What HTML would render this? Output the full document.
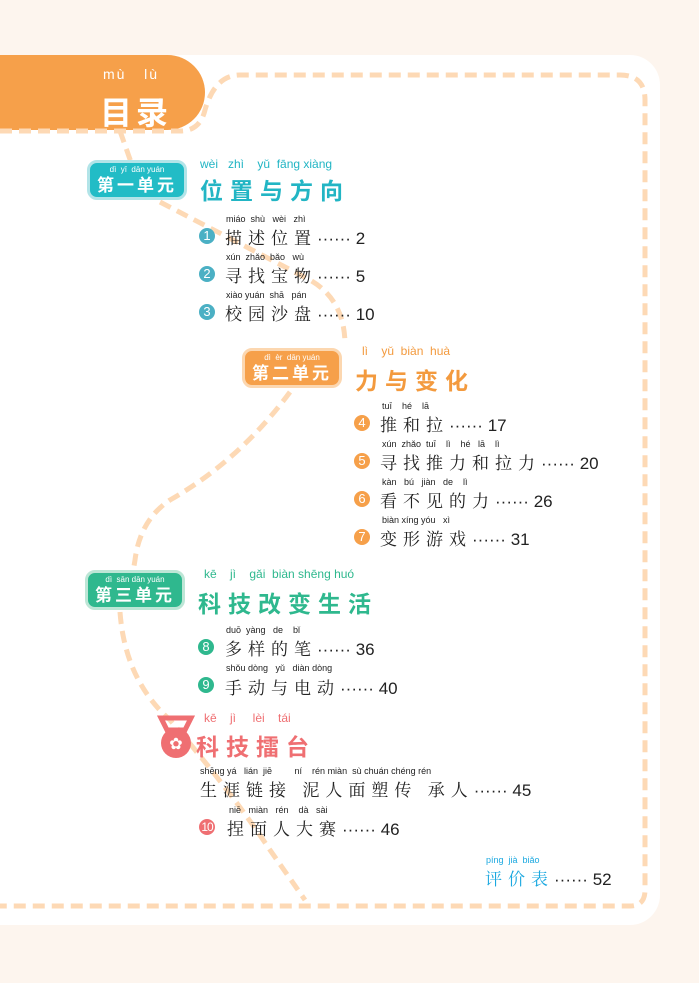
<!DOCTYPE html>
<html><head><meta charset="utf-8"><style>
body{margin:0;width:699px;height:983px;background:#fdf5ee;position:relative;overflow:hidden;font-family:"Liberation Sans","Noto Sans CJK SC",sans-serif}
.a{position:absolute;white-space:nowrap}
.py{font-size:9px;color:#222;letter-spacing:0}
.it{font-size:17px;color:#222;letter-spacing:6px;font-family:"Noto Serif CJK SC","Noto Sans CJK SC",sans-serif}
.it b{font-weight:normal;font-family:"Liberation Sans",sans-serif;letter-spacing:0}
.c{position:absolute;width:16px;height:16px;border-radius:50%;color:#fff;font-size:13px;text-align:center;line-height:16px;font-family:"Liberation Sans",sans-serif}
.badge{position:absolute;width:100px;height:40px;border-radius:10px;color:#fff;text-align:center;box-sizing:border-box}
.badge .p{font-size:8px;line-height:10px;margin-top:2px}
.badge .t{font-size:17px;font-weight:bold;letter-spacing:3px;line-height:21px}
.ti{font-size:23px;font-weight:bold;letter-spacing:7px}
</style></head><body>
<div class="a" style="left:0;top:55px;width:660px;height:870px;background:#fff;border-radius:0 30px 30px 0"></div>
<div class="a" style="left:0;top:55px;width:205px;height:75px;background:#f6a04a;border-radius:0 40px 40px 0"></div>
<svg class="a" style="left:0;top:0" width="699" height="983">
<g fill="none" stroke="#fdd9b5" stroke-width="5" stroke-dasharray="12,7">
<path d="M0,131 L180,131 Q200,131 205,110 Q215,75 240,75 L620,75 Q645,75 645,100 L645,890 Q645,906 630,906 L0,906"/>
<path d="M120,131 L132,165"/>
<path d="M160,202 L310,280 Q345,300 345,345"/>
<path d="M290,392 Q240,460 170,500 Q140,520 135,560 L133,572"/>
<path d="M120,612 Q125,680 170,720 Q230,790 270,850 L305,900"/>
</g></svg>
<div class="a" style="left:103px;top:66px;color:#fff;font-size:14px;letter-spacing:2px">mù&nbsp;&nbsp;&nbsp;lù</div>
<div class="a" style="left:100px;top:88px;color:#fff;font-size:32px;font-weight:bold;letter-spacing:4px">目录</div>

<div class="badge" style="left:87px;top:160px;background:#22bcc6;border:3px solid #b2e4e8"><div class="p">dì&nbsp;&nbsp;yī&nbsp;&nbsp;dān&nbsp;yuán</div><div class="t">第一单元</div></div>
<div class="a" style="left:200px;top:157px;color:#22b5c4;font-size:12px">wèi&nbsp;&nbsp;&nbsp;zhì&nbsp;&nbsp;&nbsp;&nbsp;yǔ&nbsp;&nbsp;fāng&nbsp;xiàng</div>
<div class="a ti" style="left:200px;top:172px;color:#22b5c4">位置与方向</div>

<div class="a py" style="left:226px;top:214px">miáo&nbsp;&nbsp;shù&nbsp;&nbsp;&nbsp;wèi&nbsp;&nbsp;&nbsp;zhì</div>
<div class="c" style="left:199px;top:228px;background:#4bb0c4">1</div>
<div class="a it" style="left:225px;top:224px">描述位置<b>······ 2</b></div>
<div class="a py" style="left:226px;top:252px">xún&nbsp;&nbsp;zhǎo&nbsp;&nbsp;bǎo&nbsp;&nbsp;&nbsp;wù</div>
<div class="c" style="left:199px;top:266px;background:#4bb0c4">2</div>
<div class="a it" style="left:225px;top:262px">寻找宝物<b>······ 5</b></div>
<div class="a py" style="left:226px;top:290px">xiào&nbsp;yuán&nbsp;&nbsp;shā&nbsp;&nbsp;&nbsp;pán</div>
<div class="c" style="left:199px;top:304px;background:#4bb0c4">3</div>
<div class="a it" style="left:225px;top:300px">校园沙盘<b>······ 10</b></div>

<div class="badge" style="left:242px;top:348px;background:#f6a04a;border:3px solid #fcd7b0"><div class="p">dì&nbsp;&nbsp;èr&nbsp;&nbsp;dān&nbsp;yuán</div><div class="t">第二单元</div></div>
<div class="a" style="left:362px;top:344px;color:#f39a3e;font-size:12px">lì&nbsp;&nbsp;&nbsp;&nbsp;yǔ&nbsp;&nbsp;biàn&nbsp;&nbsp;huà</div>
<div class="a ti" style="left:355px;top:362px;color:#f39a3e">力与变化</div>

<div class="a py" style="left:382px;top:401px">tuī&nbsp;&nbsp;&nbsp;&nbsp;hé&nbsp;&nbsp;&nbsp;&nbsp;lā</div>
<div class="c" style="left:354px;top:415px;background:#f6a04a">4</div>
<div class="a it" style="left:380px;top:411px">推和拉<b>······ 17</b></div>
<div class="a py" style="left:382px;top:439px">xún&nbsp;&nbsp;zhǎo&nbsp;&nbsp;tuī&nbsp;&nbsp;&nbsp;&nbsp;lì&nbsp;&nbsp;&nbsp;&nbsp;hé&nbsp;&nbsp;&nbsp;lā&nbsp;&nbsp;&nbsp;&nbsp;lì</div>
<div class="c" style="left:354px;top:453px;background:#f6a04a">5</div>
<div class="a it" style="left:380px;top:449px">寻找推力和拉力<b>······ 20</b></div>
<div class="a py" style="left:382px;top:477px">kàn&nbsp;&nbsp;&nbsp;bú&nbsp;&nbsp;&nbsp;jiàn&nbsp;&nbsp;&nbsp;de&nbsp;&nbsp;&nbsp;&nbsp;lì</div>
<div class="c" style="left:354px;top:491px;background:#f6a04a">6</div>
<div class="a it" style="left:380px;top:487px">看不见的力<b>······ 26</b></div>
<div class="a py" style="left:382px;top:515px">biàn&nbsp;xíng&nbsp;yóu&nbsp;&nbsp;&nbsp;xì</div>
<div class="c" style="left:354px;top:529px;background:#f6a04a">7</div>
<div class="a it" style="left:380px;top:525px">变形游戏<b>······ 31</b></div>

<div class="badge" style="left:85px;top:570px;background:#2fb88e;border:3px solid #bde6d6"><div class="p">dì&nbsp;&nbsp;sān&nbsp;dān&nbsp;yuán</div><div class="t">第三单元</div></div>
<div class="a" style="left:204px;top:567px;color:#2fb88e;font-size:12px">kē&nbsp;&nbsp;&nbsp;&nbsp;jì&nbsp;&nbsp;&nbsp;&nbsp;gǎi&nbsp;&nbsp;biàn&nbsp;shēng&nbsp;huó</div>
<div class="a ti" style="left:198px;top:585px;color:#2fb88e">科技改变生活</div>

<div class="a py" style="left:226px;top:625px">duō&nbsp;&nbsp;yàng&nbsp;&nbsp;&nbsp;de&nbsp;&nbsp;&nbsp;&nbsp;bǐ</div>
<div class="c" style="left:198px;top:639px;background:#2fb88e">8</div>
<div class="a it" style="left:225px;top:635px">多样的笔<b>······ 36</b></div>
<div class="a py" style="left:226px;top:663px">shǒu&nbsp;dòng&nbsp;&nbsp;&nbsp;yǔ&nbsp;&nbsp;&nbsp;diàn&nbsp;dòng</div>
<div class="c" style="left:198px;top:677px;background:#2fb88e">9</div>
<div class="a it" style="left:225px;top:674px">手动与电动<b>······ 40</b></div>

<svg class="a" style="left:157px;top:714px" width="38" height="46"><path d="M4,4 L34,4 L28,16 L10,16 Z" fill="none" stroke="#ef6f72" stroke-width="5"/><circle cx="19" cy="29" r="15" fill="#ef6f72"/><text x="19" y="35" font-size="16" fill="#fff" text-anchor="middle" font-family="DejaVu Sans">✿</text></svg>
<div class="a" style="left:204px;top:711px;color:#ef6f72;font-size:12px">kē&nbsp;&nbsp;&nbsp;&nbsp;jì&nbsp;&nbsp;&nbsp;&nbsp;&nbsp;lèi&nbsp;&nbsp;&nbsp;&nbsp;tái</div>
<div class="a ti" style="left:196px;top:728px;color:#ef6f72">科技擂台</div>

<div class="a py" style="left:200px;top:766px">shēng&nbsp;yá&nbsp;&nbsp;&nbsp;lián&nbsp;&nbsp;jiē&nbsp;&nbsp;&nbsp;&nbsp;&nbsp;&nbsp;&nbsp;&nbsp;&nbsp;ní&nbsp;&nbsp;&nbsp;&nbsp;rén&nbsp;miàn&nbsp;&nbsp;sù&nbsp;chuán&nbsp;chéng&nbsp;rén</div>
<div class="a it" style="left:200px;top:776px">生涯链接&nbsp;泥人面塑传 承人<b>······ 45</b></div>
<div class="a py" style="left:229px;top:805px">niē&nbsp;&nbsp;&nbsp;miàn&nbsp;&nbsp;&nbsp;rén&nbsp;&nbsp;&nbsp;&nbsp;dà&nbsp;&nbsp;&nbsp;sài</div>
<div class="c" style="left:199px;top:819px;background:#ef6f72;font-size:12px;letter-spacing:-1px">10</div>
<div class="a it" style="left:227px;top:815px">捏面人大赛<b>······ 46</b></div>

<div class="a py" style="left:486px;top:855px;color:#1aa8e0">píng&nbsp;&nbsp;jià&nbsp;&nbsp;biǎo</div>
<div class="a it" style="left:485px;top:865px;color:#1aa8e0">评价表<b style="color:#222">······ 52</b></div>
</body></html>
